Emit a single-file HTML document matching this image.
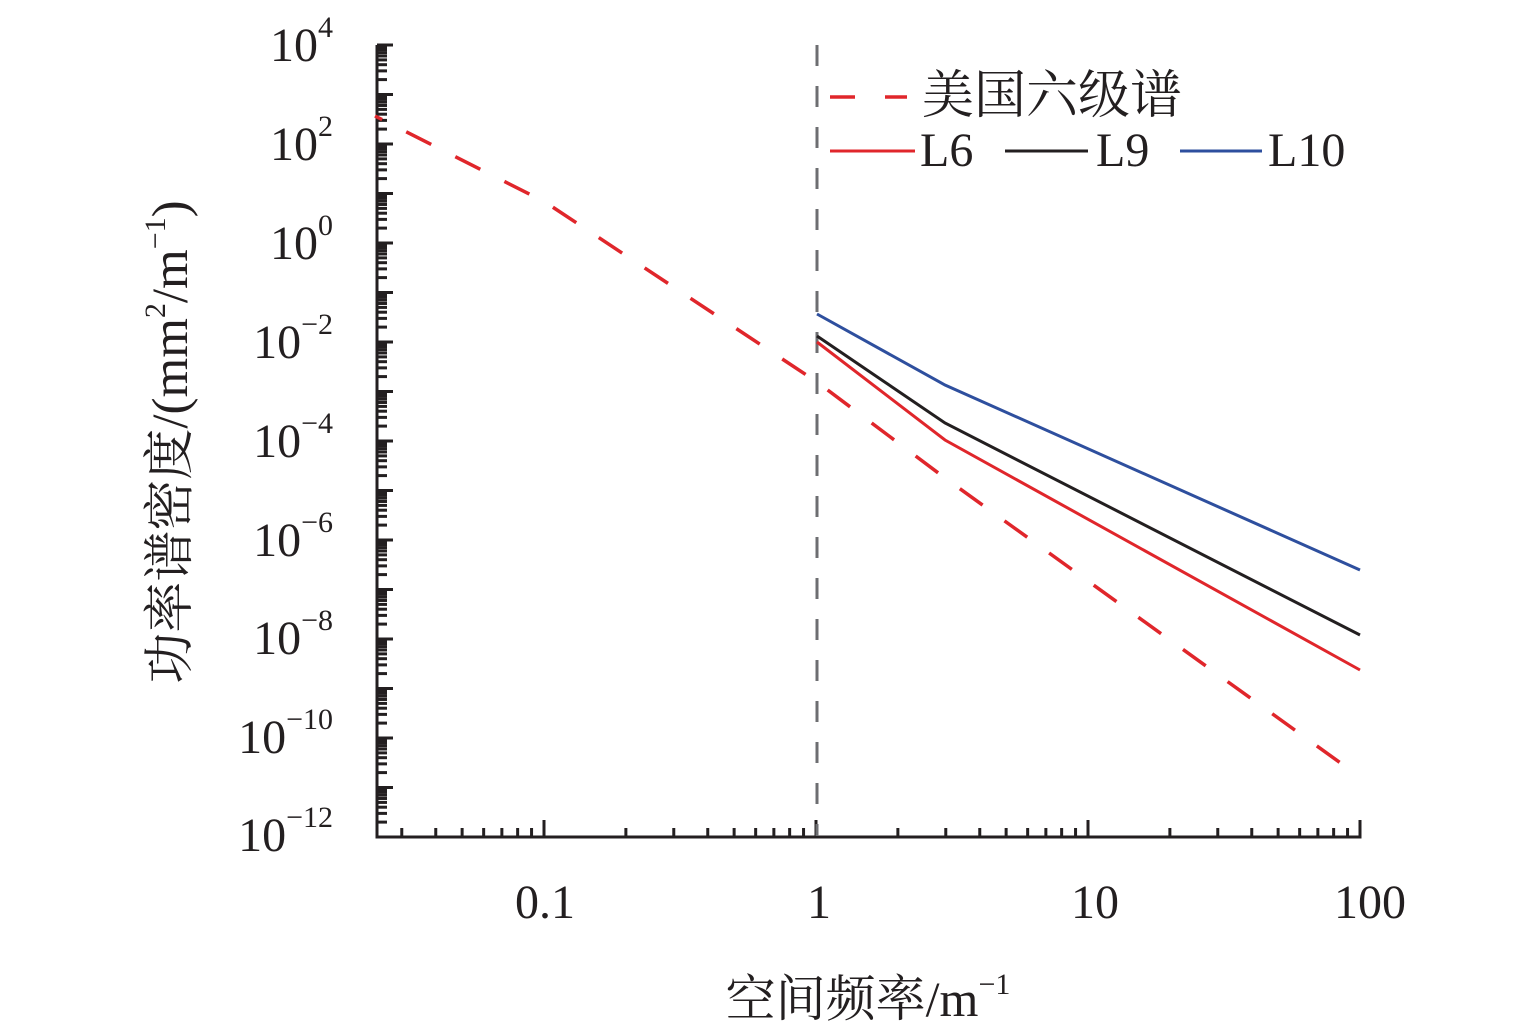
<!DOCTYPE html>
<html><head><meta charset="utf-8"><style>
html,body{margin:0;padding:0;background:#fff;}
svg{display:block;}
text{font-family:"Liberation Serif","Noto Serif CJK SC",serif;fill:#231f20;}
</style></head><body>
<svg width="1535" height="1031" viewBox="0 0 1535 1031" xmlns="http://www.w3.org/2000/svg">
<g id="ticks" stroke="#231f20" stroke-width="3"></g>
<path d="M377,45 V837 H1360 V822" fill="none" stroke="#231f20" stroke-width="3"/>
<line x1="817" y1="45" x2="817" y2="836" stroke="#6d6e71" stroke-width="3" stroke-dasharray="21,20"/>
<polyline points="375,116 545,202 817,382 945,478 1360,777" fill="none" stroke="#e0262b" stroke-width="3.5" stroke-dasharray="28,27" stroke-dashoffset="20"/>
<polyline points="817,342 945,440 1360,670" fill="none" stroke="#e0262b" stroke-width="3"/>
<polyline points="817,336 945,423 1360,635" fill="none" stroke="#231f20" stroke-width="3"/>
<polyline points="817,314 945,385 1360,570" fill="none" stroke="#2e4f9e" stroke-width="3"/>
<line x1="830" y1="97" x2="855" y2="97" stroke="#e0262b" stroke-width="3.5"/>
<line x1="885" y1="97" x2="907" y2="97" stroke="#e0262b" stroke-width="3.5"/>
<text x="922" y="113" font-size="52">美国六级谱</text>
<line x1="830" y1="151" x2="915" y2="151" stroke="#e0262b" stroke-width="3"/>
<text x="920" y="166" font-size="48">L6</text>
<line x1="1005" y1="151" x2="1088" y2="151" stroke="#231f20" stroke-width="3"/>
<text x="1096" y="166" font-size="48">L9</text>
<line x1="1180" y1="151" x2="1262" y2="151" stroke="#2e4f9e" stroke-width="3"/>
<text x="1268" y="166" font-size="48">L10</text>
<g font-size="48" text-anchor="end">
<text x="333" y="61">10<tspan font-size="30" dy="-24">4</tspan></text>
<text x="333" y="160">10<tspan font-size="30" dy="-24">2</tspan></text>
<text x="333" y="259">10<tspan font-size="30" dy="-24">0</tspan></text>
<text x="333" y="358">10<tspan font-size="30" dy="-24">−2</tspan></text>
<text x="333" y="457">10<tspan font-size="30" dy="-24">−4</tspan></text>
<text x="333" y="556">10<tspan font-size="30" dy="-24">−6</tspan></text>
<text x="333" y="654">10<tspan font-size="30" dy="-24">−8</tspan></text>
<text x="333" y="753">10<tspan font-size="30" dy="-24">−10</tspan></text>
<text x="333" y="851">10<tspan font-size="30" dy="-24">−12</tspan></text>
</g>
<g font-size="48" text-anchor="middle">
<text x="545" y="918">0.1</text>
<text x="819" y="918">1</text>
<text x="1095" y="918">10</text>
<text x="1370" y="918">100</text>
</g>
<text x="868" y="1016" font-size="50" text-anchor="middle">空间频率/m<tspan font-size="30" dy="-22">−1</tspan></text>
<text transform="translate(187,442) rotate(-90)" font-size="51" text-anchor="middle">功率谱密度/(mm<tspan font-size="30" dy="-22">2</tspan><tspan dy="22">/m</tspan><tspan font-size="30" dy="-22">−1</tspan><tspan dy="22">)</tspan></text>
</svg>
<script>
var g=document.getElementById('ticks'),s='';
var y0=45,dy=(837-45)/16;
for(var d=0;d<16;d++){var yb=y0+(d+1)*dy;
 s+='<line x1="377" x2="393" y1="'+(yb-dy)+'" y2="'+(yb-dy)+'"/>';
 for(var k=2;k<10;k++){var y=yb-Math.log10(k)*dy;s+='<line x1="377" x2="387" y1="'+y+'" y2="'+y+'"/>';}}
var xs=[544,816,1088,1360],dx=272;
for(var i=0;i<4;i++){s+='<line y1="837" y2="820" x1="'+xs[i]+'" x2="'+xs[i]+'"/>';}
for(var i=-2;i<3;i++){var xb=544+i*dx;for(var k=2;k<10;k++){var x=xb+Math.log10(k)*dx;if(x>380&&x<1358)s+='<line y1="837" y2="828" x1="'+x+'" x2="'+x+'"/>';}}
g.innerHTML=s;
</script>
</body></html>
